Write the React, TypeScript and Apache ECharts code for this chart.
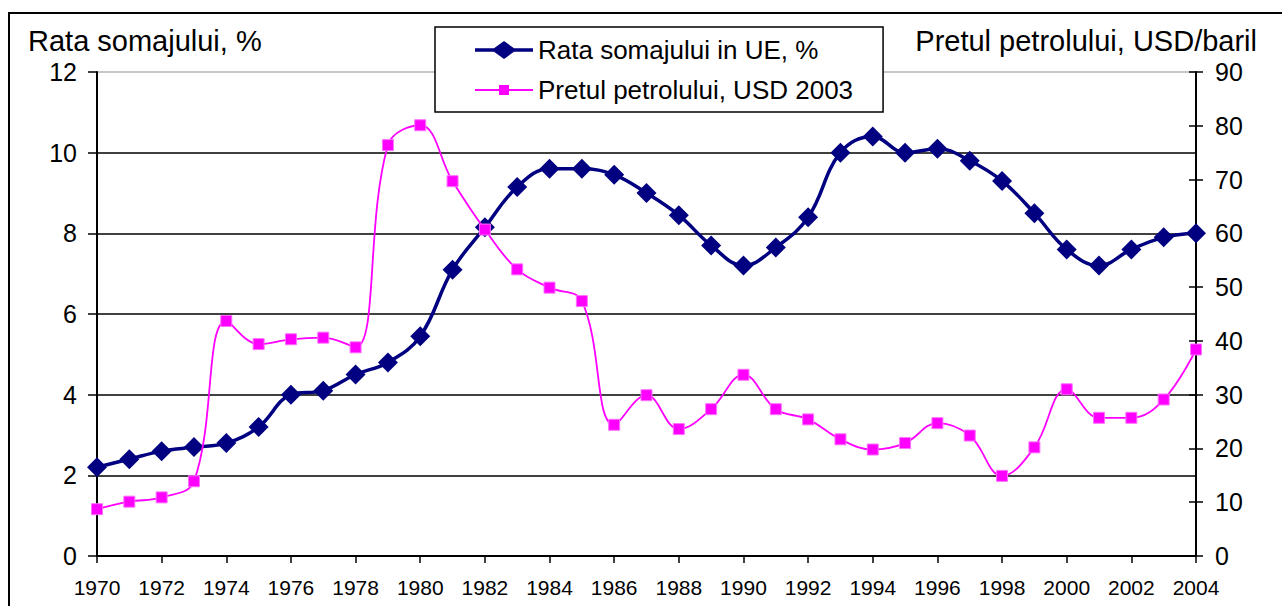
import React, { useEffect, useRef } from 'react';
import * as echarts from 'echarts';

const years = [
  '1970', '1971', '1972', '1973', '1974', '1975', '1976', '1977', '1978', '1979',
  '1980', '1981', '1982', '1983', '1984', '1985', '1986', '1987', '1988', '1989',
  '1990', '1991', '1992', '1993', '1994', '1995', '1996', '1997', '1998', '1999',
  '2000', '2001', '2002', '2003', '2004',
];

const unemployment = [
  2.2, 2.4, 2.6, 2.7, 2.8, 3.2, 4.0, 4.1, 4.5, 4.8,
  5.45, 7.1, 8.15, 9.15, 9.6, 9.6, 9.45, 9.0, 8.45, 7.7,
  7.2, 7.65, 8.4, 10.0, 10.4, 10.0, 10.1, 9.8, 9.3, 8.5,
  7.6, 7.2, 7.6, 7.9, 8.0,
];

const oilPrice = [
  8.7, 10.1, 10.9, 13.9, 43.7, 39.4, 40.3, 40.6, 38.8, 76.4,
  80.1, 69.7, 60.7, 53.3, 49.9, 47.4, 24.4, 29.9, 23.6, 27.3,
  33.7, 27.3, 25.4, 21.7, 19.8, 21.0, 24.7, 22.4, 14.9, 20.2,
  31.0, 25.7, 25.7, 29.1, 38.4,
];

const seriesNames = ['Rata somajului in UE, %', 'Pretul petrolului, USD 2003'];
const leftTitle = 'Rata somajului, %';
const rightTitle = 'Pretul petrolului, USD/baril';

const FONT = '"Liberation Sans", Arial, sans-serif';

// legend icons: line + marker drawn as one path (58 wide)
const iconDiamond =
  'path://M0,7.25L19,7.25L29,0L39,7.25L58,7.25L58,10.75L39,10.75L29,18L19,10.75L0,10.75Z';
const iconSquare =
  'path://M0,4L24,4L24,0L34,0L34,4L58,4L58,6L34,6L34,10L24,10L24,6L0,6Z';

export default function App() {
  const ref = useRef<HTMLDivElement>(null);

  useEffect(() => {
    const chart = echarts.init(ref.current!, null, { renderer: 'svg' });
    chart.setOption({
      animation: false,
      backgroundColor: '#ffffff',
      textStyle: { fontFamily: FONT, color: '#000' },
      grid: { left: 97, right: 86, top: 72, bottom: 50, containLabel: false },
      graphic: [
        {
          type: 'rect',
          silent: true,
          z: -10,
          shape: { x: 9, y: 13, width: 1500, height: 1000 },
          style: { fill: 'none', stroke: '#000', lineWidth: 2 },
        },
        {
          type: 'text',
          x: 28,
          y: 41,
          style: {
            text: leftTitle,
            fontSize: 29,
            fontFamily: FONT,
            fill: '#000',
            verticalAlign: 'middle',
            align: 'left',
          },
        },
        {
          type: 'text',
          x: 1257,
          y: 41,
          style: {
            text: rightTitle,
            fontSize: 29,
            fontFamily: FONT,
            fill: '#000',
            verticalAlign: 'middle',
            align: 'right',
          },
        },
      ],
      legend: {
        orient: 'vertical',
        left: 435,
        top: 27,
        padding: [10, 30, 9, 40],
        itemGap: 14,
        itemWidth: 58,
        itemHeight: 22,
        backgroundColor: '#ffffff',
        borderColor: '#000',
        borderWidth: 1.5,
        borderRadius: 0,
        textStyle: { fontSize: 26, fontFamily: FONT, color: '#000' },
        data: [
          { name: seriesNames[0], icon: iconDiamond, itemStyle: { color: '#000080', borderWidth: 0 } },
          { name: seriesNames[1], icon: iconSquare, itemStyle: { color: '#ff00ff', borderWidth: 0 } },
        ],
        z: 10,
      },
      xAxis: {
        type: 'category',
        data: years,
        boundaryGap: false,
        axisLine: { show: true, lineStyle: { color: '#000', width: 2 } },
        axisTick: { show: true, interval: 1, length: 7, lineStyle: { color: '#000', width: 1.5 } },
        axisLabel: { interval: 1, fontSize: 21, margin: 21, color: '#000', fontFamily: FONT },
        splitLine: { show: false },
      },
      yAxis: [
        {
          type: 'value',
          min: 0,
          max: 12,
          interval: 2,
          position: 'left',
          axisLine: { show: true, lineStyle: { color: '#000', width: 2 } },
          axisTick: { show: true, length: 9, lineStyle: { color: '#000', width: 1.5 } },
          axisLabel: { fontSize: 25, margin: 20, color: '#000', fontFamily: FONT },
          splitLine: {
            show: true,
            lineStyle: {
              color: ['#000', '#000', '#000', '#000', '#000', '#000', '#b4b4b4'],
              width: 1.5,
            },
          },
        },
        {
          type: 'value',
          min: 0,
          max: 90,
          interval: 10,
          position: 'right',
          axisLine: { show: true, lineStyle: { color: '#000', width: 2 } },
          axisTick: { show: true, length: 7, lineStyle: { color: '#000', width: 1.5 } },
          axisLabel: { fontSize: 25, margin: 19, color: '#000', fontFamily: FONT },
          splitLine: { show: false },
        },
        {
          type: 'value',
          min: 0,
          max: 90,
          interval: 10,
          position: 'right',
          axisLine: { show: false },
          axisTick: { show: true, inside: true, length: 7, lineStyle: { color: '#000', width: 1.5 } },
          axisLabel: { show: false },
          splitLine: { show: false },
        },
      ],
      series: [
        {
          name: seriesNames[0],
          type: 'line',
          yAxisIndex: 0,
          data: unemployment,
          smooth: 0.4,
          symbol: 'diamond',
          symbolSize: [20, 20],
          lineStyle: { color: '#000080', width: 3.5 },
          itemStyle: { color: '#000080' },
          z: 3,
        },
        {
          name: seriesNames[1],
          type: 'line',
          yAxisIndex: 1,
          data: oilPrice,
          smooth: 0.4,
          symbol: 'rect',
          symbolSize: 11,
          lineStyle: { color: '#ff00ff', width: 1.8 },
          itemStyle: { color: '#ff00ff', borderColor: '#ff70ff', borderWidth: 1 },
          z: 4,
        },
      ],
    });
    return () => chart.dispose();
  }, []);

  return (
    <div
      ref={ref}
      style={{ position: 'fixed', left: 0, top: 0, width: 1282, height: 606, background: '#fff' }}
    />
  );
}
